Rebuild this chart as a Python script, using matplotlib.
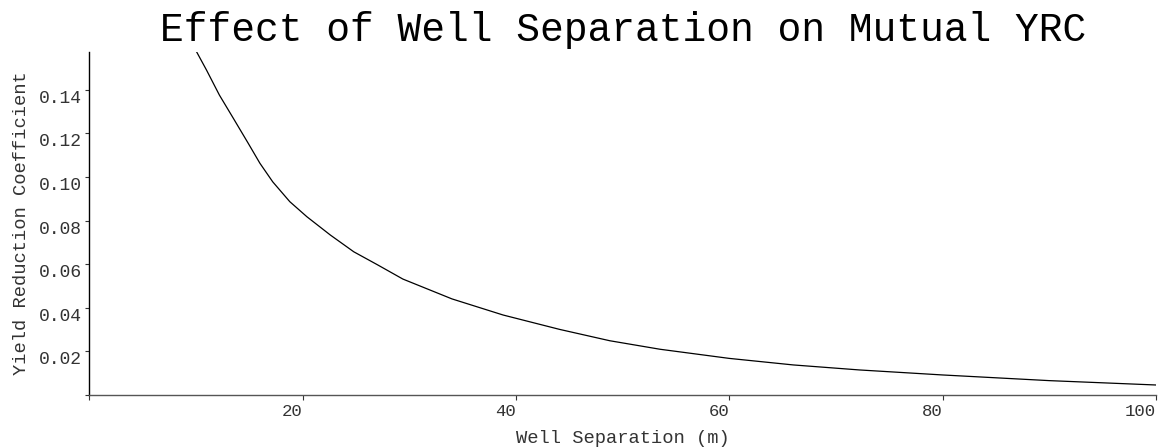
import matplotlib
matplotlib.use('Agg')
import matplotlib.pyplot as plt

plt.rcParams['font.family'] = ['Liberation Mono', 'DejaVu Sans Mono']

# values
separation = [10.0, 11.0, 12.2, 13.5, 14.9, 16.0, 17.2, 18.8, 20.4, 22.6,
              24.8, 27.0, 29.4, 34.0, 38.8, 44.1, 48.8, 53.5, 60.0, 66.0,
              72.2, 80.0, 90.0, 100.0]
yrc = [0.158, 0.149, 0.1376, 0.127, 0.1155, 0.1063, 0.0978, 0.0887, 0.0818,
       0.0734, 0.0657, 0.0598, 0.0532, 0.0441, 0.0367, 0.0301, 0.0249,
       0.0210, 0.0168, 0.0138, 0.0115, 0.0092, 0.0066, 0.0046]

x_ticks = [0, 20, 40, 60, 80, 100]
x_labels = ['', '20', '40', '60', '80', '100']
y_ticks = [0, 0.02, 0.04, 0.06, 0.08, 0.10, 0.12, 0.14]
y_labels = ['', '0.02', '0.04', '0.06', '0.08', '0.10', '0.12', '0.14']

fig = plt.figure(figsize=(11.67, 4.47), dpi=100)
ax = fig.add_axes([0.0765, 0.1163, 0.914, 0.768])
ax.plot(separation, yrc, color='black', lw=0.9)
ax.set_xlim(0, 100)
ax.set_ylim(0, 0.1575)

ax.spines['top'].set_visible(False)
ax.spines['right'].set_visible(False)
ax.spines['left'].set_linewidth(1.0)
ax.spines['bottom'].set_linewidth(1.0)
ax.spines['bottom'].set_color('#555555')

ax.set_xticks(x_ticks)
ax.set_xticklabels(x_labels, fontsize=12.5)
ax.set_yticks(y_ticks)
ax.set_yticklabels(y_labels, fontsize=13)
ax.tick_params(axis='x', length=3.6, width=0.8, pad=3, colors='#333333')
ax.tick_params(axis='y', length=3, width=0.8, pad=2, colors='#333333')
for lab in ax.get_xticklabels():
    lab.set_ha('right')
for lab in ax.get_yticklabels():
    lab.set_va('top')

ax.set_xlabel('Well Separation (m)', fontsize=13.5, color='#333333', va='center')
ax.xaxis.set_label_coords(0.5, -0.128)
ax.set_ylabel('Yield Reduction Coefficient', fontsize=13.5, color='#333333', va='center')
ax.yaxis.set_label_coords(-0.0636, 0.5)

fig.text(0.5336, 0.933, 'Effect of Well Separation on Mutual YRC',
         fontsize=28.5, ha='center', va='center')

fig.savefig('out.png', dpi=100)
